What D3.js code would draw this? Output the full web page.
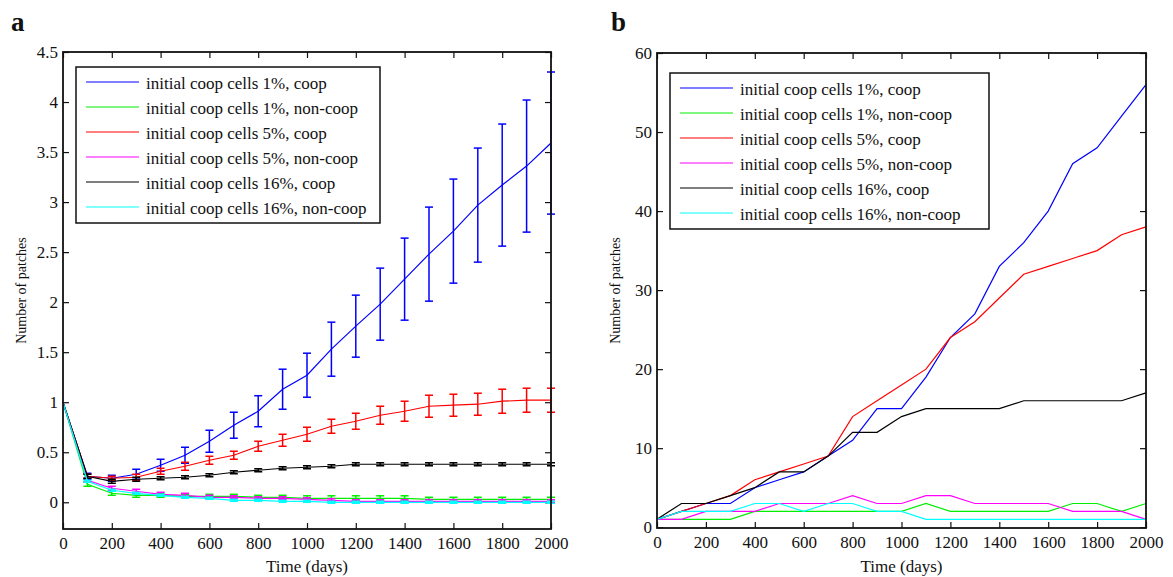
<!DOCTYPE html>
<html>
<head>
<meta charset="utf-8">
<script src="https://cdn.jsdelivr.net/npm/d3@7"></script>
<style>
body { margin: 0; background: #fff; }
svg text { font-family: "Liberation Serif", "Times New Roman", serif; fill: #111; }
</style>
</head>
<body>
<div id="chart"></div>
<script>
// time axis (days) shared by both panels
var days = [0,100,200,300,400,500,600,700,800,900,1000,1100,1200,1300,1400,1500,1600,1700,1800,1900,2000];
var xTicks = [0,200,400,600,800,1000,1200,1400,1600,1800,2000];
var yTicksA = [0,0.5,1,1.5,2,2.5,3,3.5,4,4.5];
var yTicksB = [0,10,20,30,40,50,60];

var seriesNames = ["initial coop cells 1%, coop", "initial coop cells 1%, non-coop",
                   "initial coop cells 5%, coop", "initial coop cells 5%, non-coop",
                   "initial coop cells 16%, coop", "initial coop cells 16%, non-coop"];
var seriesColors = ["#0000ff", "#00ee00", "#ff0000", "#ff00ff", "#000000", "#00ffff"];

// panel a: mean number of patches and error
var a_coop1 = [1.00,0.26,0.24,0.28,0.37,0.47,0.61,0.77,0.91,1.13,1.27,1.53,1.76,1.98,2.23,2.48,2.71,2.97,3.17,3.36,3.59];
var a_coop1_err = [0,0.03,0.03,0.05,0.06,0.08,0.11,0.13,0.155,0.2,0.22,0.27,0.31,0.36,0.41,0.47,0.52,0.57,0.61,0.66,0.71];
var a_non1 = [1.00,0.18,0.09,0.07,0.07,0.06,0.06,0.06,0.05,0.05,0.04,0.04,0.04,0.04,0.04,0.03,0.03,0.03,0.03,0.03,0.03];
var a_non1_err = [0,0.02,0.02,0.02,0.02,0.02,0.02,0.02,0.02,0.02,0.025,0.025,0.025,0.025,0.025,0.02,0.02,0.02,0.02,0.02,0.02];
var a_coop5 = [1.00,0.26,0.24,0.25,0.31,0.36,0.42,0.47,0.56,0.62,0.68,0.76,0.81,0.87,0.91,0.96,0.97,0.98,1.01,1.02,1.02];
var a_coop5_err = [0,0.02,0.02,0.03,0.03,0.04,0.04,0.04,0.05,0.06,0.07,0.07,0.08,0.09,0.1,0.11,0.11,0.11,0.12,0.12,0.12];
var a_non5 = [1.00,0.22,0.14,0.11,0.08,0.07,0.05,0.05,0.04,0.04,0.03,0.02,0.01,0.01,0.01,0.01,0.01,0.01,0.01,0.01,0.01];
var a_non5_err = [0,0.02,0.02,0.02,0.02,0.02,0.02,0.015,0.015,0.015,0.015,0.015,0.015,0.015,0.015,0.015,0.015,0.015,0.015,0.015,0.015];
var a_coop16 = [1.00,0.26,0.21,0.23,0.24,0.25,0.27,0.30,0.32,0.34,0.35,0.36,0.38,0.38,0.38,0.38,0.38,0.38,0.38,0.38,0.38];
var a_coop16_err = [0,0.02,0.02,0.02,0.015,0.015,0.015,0.015,0.015,0.015,0.015,0.015,0.015,0.015,0.015,0.015,0.015,0.015,0.015,0.015,0.015];
var a_non16 = [1.00,0.21,0.12,0.09,0.07,0.05,0.04,0.02,0.02,0.01,0.01,0.00,0.00,0.00,0.00,0.00,0.00,0.00,0.00,0.00,0.00];
var a_non16_err = [0,0.01,0.01,0.01,0.01,0.01,0.01,0.01,0.01,0.01,0.01,0.01,0.01,0.01,0.01,0.01,0.01,0.01,0.01,0.01,0.01];

// panel b: single run counts
var b_coop1 = [1,2,3,3,5,6,7,9,11,15,15,19,24,27,33,36,40,46,48,52,56];
var b_non1 = [1,1,1,1,2,2,2,2,2,2,2,3,2,2,2,2,2,3,3,2,3];
var b_coop5 = [1,2,3,4,6,7,8,9,14,16,18,20,24,26,29,32,33,34,35,37,38];
var b_non5 = [1,1,2,2,2,3,3,3,4,3,3,4,4,3,3,3,3,2,2,2,1];
var b_coop16 = [1,3,3,4,5,7,7,9,12,12,14,15,15,15,15,16,16,16,16,16,17];
var b_non16 = [1,2,2,2,3,3,2,3,3,2,2,1,1,1,1,1,1,1,1,1,1];

var svg = d3.select("#chart").append("svg").attr("width", 1173).attr("height", 577);

function drawPanel(p) {
    var x = d3.scaleLinear().domain([0, 2000]).range([p.left, p.right]);
    var y = d3.scaleLinear().domain(p.yDomain).range([p.bottom, p.top]);
    var g = svg.append("g");

    var styleAxis = function(sel) {
        sel.select(".domain").remove();
        sel.selectAll("line").attr("stroke", "#111").attr("stroke-width", 1.2);
        sel.selectAll("text").attr("font-family", "Liberation Serif").attr("font-size", 17).attr("fill", "#111");
    };

    g.append("g").attr("transform", "translate(0," + p.bottom + ")")
        .call(d3.axisBottom(x).tickValues(xTicks).tickSizeInner(-6).tickSizeOuter(0).tickPadding(8)
            .tickFormat(function(d) { return d; }))
        .call(styleAxis);
    g.append("g").attr("transform", "translate(0," + p.top + ")")
        .call(d3.axisTop(x).tickValues(xTicks).tickSizeInner(-6).tickSizeOuter(0).tickFormat(""))
        .call(styleAxis);
    g.append("g").attr("transform", "translate(" + p.left + ",0)")
        .call(d3.axisLeft(y).tickValues(p.yTicks).tickSizeInner(-6).tickSizeOuter(0).tickPadding(5)
            .tickFormat(function(d) { return d; }))
        .call(styleAxis);
    g.append("g").attr("transform", "translate(" + p.right + ",0)")
        .call(d3.axisRight(y).tickValues(p.yTicks).tickSizeInner(-6).tickSizeOuter(0).tickFormat(""))
        .call(styleAxis);

    var line = d3.line().x(function(d, i) { return x(days[i]); }).y(function(d) { return y(d); });

    p.series.forEach(function(s, k) {
        var c = seriesColors[k];
        g.append("path").datum(s.values)
            .attr("fill", "none").attr("stroke", c).attr("stroke-width", 1.2)
            .attr("d", line);
        if (s.err) {
            var bars = g.append("g").attr("stroke", c).attr("stroke-width", 1.5);
            s.values.forEach(function(v, i) {
                if (i === 0) return;
                var e = s.err[i], cx = x(days[i]);
                bars.append("line").attr("x1", cx).attr("x2", cx).attr("y1", y(v - e)).attr("y2", y(v + e));
                bars.append("line").attr("x1", cx - 4).attr("x2", cx + 4).attr("y1", y(v - e)).attr("y2", y(v - e));
                bars.append("line").attr("x1", cx - 4).attr("x2", cx + 4).attr("y1", y(v + e)).attr("y2", y(v + e));
            });
        }
    });

    // box
    g.append("rect").attr("x", p.left).attr("y", p.top)
        .attr("width", p.right - p.left).attr("height", p.bottom - p.top)
        .attr("fill", "none").attr("stroke", "#111").attr("stroke-width", 1.8);

    // legend
    var lg = g.append("g");
    lg.append("rect").attr("x", p.legend.x).attr("y", p.legend.y)
        .attr("width", p.legend.w).attr("height", p.legend.h)
        .attr("fill", "#fff").attr("stroke", "#111").attr("stroke-width", 1.5);
    seriesNames.forEach(function(name, k) {
        var ly = p.legend.y + 15 + k * 25;
        lg.append("line").attr("x1", p.legend.x + 10).attr("x2", p.legend.x + 63)
            .attr("y1", ly).attr("y2", ly).attr("stroke", seriesColors[k]).attr("stroke-width", 1.2);
        lg.append("text").attr("x", p.legend.x + 70).attr("y", ly).attr("dy", "0.42em")
            .attr("font-size", 17).text(name);
    });

    // axis labels
    svg.append("text").attr("x", (p.left + p.right) / 2).attr("y", 572)
        .attr("text-anchor", "middle").attr("font-size", 17).text("Time (days)");
    svg.append("text").attr("transform", "translate(" + p.ylabelX + "," + ((p.top + p.bottom) / 2) + ") rotate(-90)")
        .attr("text-anchor", "middle").attr("font-size", 14).text("Number of patches");
    svg.append("text").attr("x", p.letterX).attr("y", 31)
        .attr("font-size", 27).attr("font-weight", "bold").text(p.letter);
}

drawPanel({
    left: 63, right: 551, top: 52, bottom: 529,
    yDomain: [-0.267, 4.5], yTicks: yTicksA,
    ylabelX: 26, letter: "a", letterX: 11,
    legend: {x: 76, y: 67, w: 304, h: 156},
    series: [
        {values: a_coop1, err: a_coop1_err},
        {values: a_non1, err: a_non1_err},
        {values: a_coop5, err: a_coop5_err},
        {values: a_non5, err: a_non5_err},
        {values: a_coop16, err: a_coop16_err},
        {values: a_non16, err: a_non16_err}
    ]
});

drawPanel({
    left: 657, right: 1146, top: 53, bottom: 528,
    yDomain: [-0.1, 60], yTicks: yTicksB,
    ylabelX: 620, letter: "b", letterX: 611,
    legend: {x: 670, y: 73, w: 319, h: 156},
    series: [
        {values: b_coop1}, {values: b_non1}, {values: b_coop5},
        {values: b_non5}, {values: b_coop16}, {values: b_non16}
    ]
});
</script>
</body>
</html>
